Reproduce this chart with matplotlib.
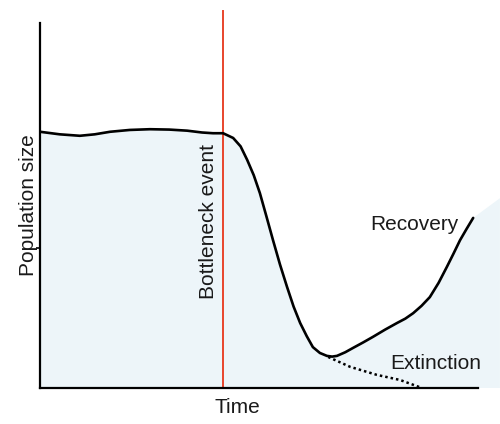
import matplotlib
matplotlib.use("Agg")
import matplotlib.pyplot as plt

plt.rcParams['font.family'] = ['Liberation Sans', 'DejaVu Sans']

# Data (time and population size in arbitrary units, 0-100)
time = [0, 4.5, 9.1, 12.5, 16.0, 20.5, 25.1, 29.5, 33.6, 37.0, 39.5, 41.8,
        44.1, 45.8, 47.3, 48.8, 50.2, 51.7, 53.2, 54.8, 56.4, 57.9, 59.4,
        60.9, 62.3, 63.9, 65.5, 66.7, 67.8, 69.7, 71.5, 73.8, 76.0, 78.8,
        81.5, 83.4, 85.2, 87.1, 89.0, 91.0, 92.9, 94.4, 95.9, 97.4, 98.9]
population = [70.2, 69.5, 69.1, 69.5, 70.2, 70.7, 70.9, 70.8, 70.5, 70.0, 69.8, 69.8,
              68.5, 66.2, 62.5, 58.3, 53.4, 47.0, 40.5, 33.8, 27.7, 22.3, 17.8,
              14.2, 11.2, 9.6, 8.8, 8.6, 8.8, 9.8, 11.0, 12.5, 14.0, 16.0,
              17.8, 19.0, 20.5, 22.5, 24.9, 28.8, 33.2, 36.8, 40.5, 43.6, 46.6]
ext_time = [65.8, 70.8, 76.9, 82.2, 87.2]
ext_population = [8.5, 5.8, 3.6, 2.2, 0.0]
bottleneck_time = 41.8
shade_end = (105.0, 52.0)

fig = plt.figure(figsize=(5.0, 4.24), dpi=100)
ax = fig.add_axes([40/500, 36/424, 438/500, 365/424])
ax.set_xlim(0, 100)
ax.set_ylim(0, 100)

fill_x = [0] + time + [shade_end[0], shade_end[0], 0]
fill_y = [0] + population + [shade_end[1], 0, 0]
ax.fill(fill_x, fill_y, color='#edf5f9', lw=0, clip_on=False, zorder=0)

ax.plot(time, population, color='black', lw=1.9, solid_capstyle='round',
        solid_joinstyle='round', zorder=3)
ax.plot(ext_time, ext_population, color='black', lw=1.8, ls=(0, (1, 1.2)), zorder=3)
ax.plot([bottleneck_time, bottleneck_time], [0, 103.3], color='#e8452c', lw=1.4,
        clip_on=False, zorder=2)

for s in ['top', 'right']:
    ax.spines[s].set_visible(False)
for s in ['left', 'bottom']:
    ax.spines[s].set_linewidth(1.6)
    ax.spines[s].set_zorder(4)
ax.set_xticks([])
ax.set_yticks([38.4])
ax.set_yticklabels([''])
ax.tick_params(axis='y', length=3, width=1.2)

fs = 15
tc = '#1a1a1a'
ax.set_xlabel('Time', fontsize=fs, color=tc)
ax.xaxis.set_label_coords(0.45, -0.027, transform=ax.transAxes)
ax.xaxis.label.set_va('top')
ax.set_ylabel('Population size', fontsize=fs, color=tc)
ax.yaxis.set_label_coords(-0.027, 0.5, transform=ax.transAxes)
ax.yaxis.label.set_va('center')
ax.text(bottleneck_time - 1.2, 45.5, 'Bottleneck event', rotation=90, fontsize=fs,
        ha='right', va='center', color=tc)
ax.text(75.5, 44.7, 'Recovery', fontsize=fs, ha='left', va='center', color=tc)
ax.text(80.0, 6.6, 'Extinction', fontsize=fs, ha='left', va='center', color=tc)

fig.savefig('out.png', dpi=100, facecolor='white')
